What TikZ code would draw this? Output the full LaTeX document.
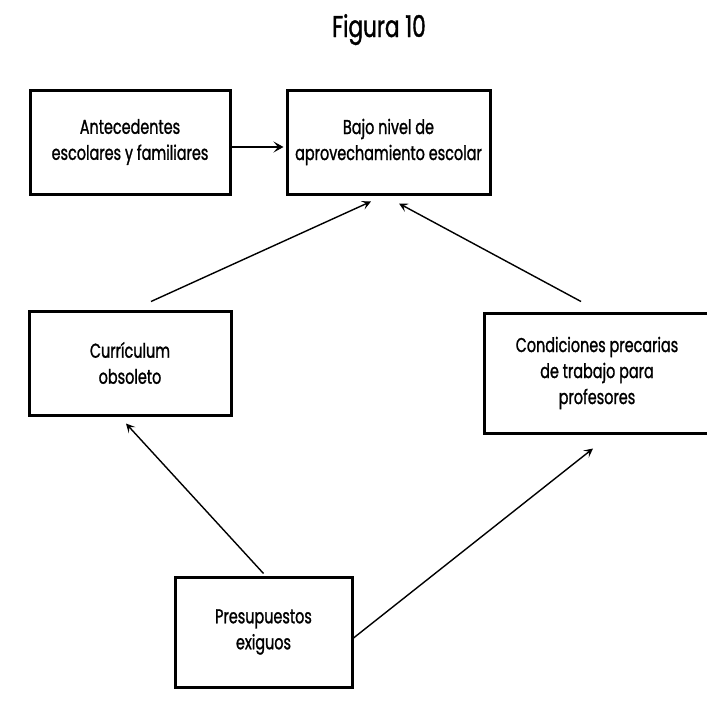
\documentclass[tikz,border=0pt]{standalone}
\usepackage{fontspec}
\setmainfont{Poppins}[FakeStretch=0.72,FakeBold=1.2]
\usetikzlibrary{arrows.meta}
\begin{document}
\begin{tikzpicture}[x=1pt,y=-1pt,
  box/.style={draw=black,line width=3pt,inner sep=0pt,align=center,
    font=\fontsize{20}{26}\selectfont},
  arr/.style={line width=1.4pt,-{Stealth[length=9pt,width=9pt,inset=4pt]}},
  thickarr/.style={line width=2.2pt,-{Stealth[length=10pt,width=11pt,inset=4.5pt]}}]
\useasboundingbox[fill=white] (0,0) rectangle (707,702);
\node[anchor=base,font=\fontsize{30}{32}\selectfont] (title) at (379,37) {Figura 10};
\node[box,minimum width=200pt,minimum height=104pt] (A) at (130,142) {Antecedentes\\escolares y familiares};
\node[box,minimum width=203pt,minimum height=104pt] (B) at (388.5,142) {Bajo nivel de\\aprovechamiento escolar};
\node[box,minimum width=202pt,minimum height=104pt] (C) at (130,363) {Currículum\\obsoleto};
\node[box,minimum width=226pt,minimum height=120pt] (D) at (597,373) {Condiciones precarias\\de trabajo para\\profesores};
\node[box,minimum width=177pt,minimum height=110pt] (E) at (263.5,632) {Presupuestos\\exiguos};
\draw[thickarr] ([yshift=-5pt]A.east) -- ([yshift=-5pt,xshift=-2pt]B.west);
\draw[arr] ([xshift=21pt,yshift=8pt]C.north) -- ([xshift=-17.5pt,yshift=-6pt]B.south);
\draw[arr] ([xshift=-16pt,yshift=10pt]D.north) -- ([xshift=10.5pt,yshift=-8pt]B.south);
\draw[arr] ([yshift=2pt]E.north) -- ([xshift=-4pt,yshift=-7pt]C.south);
\draw[arr] ([yshift=-6pt]E.east) -- ([xshift=-4pt,yshift=-14pt]D.south);
\end{tikzpicture}
\end{document}
